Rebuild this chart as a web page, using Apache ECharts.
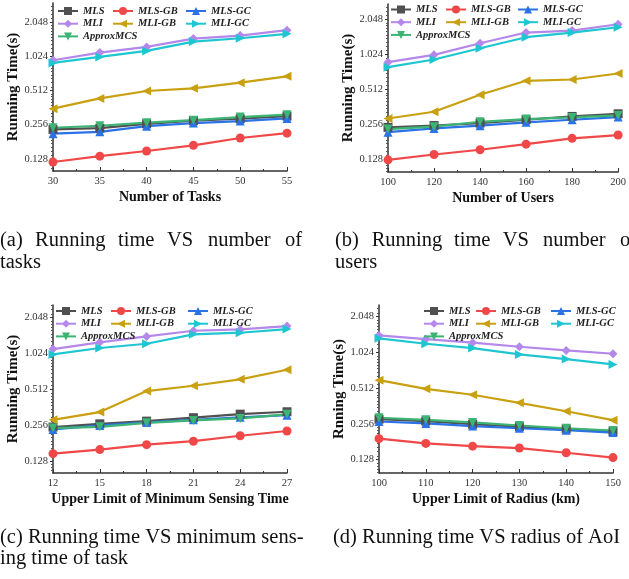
<!DOCTYPE html>
<html><head><meta charset="utf-8">
<script src="https://cdn.jsdelivr.net/npm/echarts@6/dist/echarts.min.js"></script>
<style>html,body{margin:0;padding:0;background:#fff}#c{width:629px;height:579px}</style>
</head><body><div id="c"></div>
<script>
// ---------- data ----------
const seriesNames = ['MLS','MLS-GB','MLS-GC','MLI','MLI-GB','MLI-GC','ApproxMCS'];
const yTickValues = [0.128, 0.256, 0.512, 1.024, 2.048];

// (a) number of tasks
const tasksX = [30, 35, 40, 45, 50, 55];
const tasks_MLS       = [0.232, 0.238, 0.260, 0.277, 0.288, 0.304];
const tasks_MLS_GB    = [0.120, 0.135, 0.150, 0.168, 0.195, 0.215];
const tasks_MLS_GC    = [0.213, 0.221, 0.248, 0.264, 0.275, 0.290];
const tasks_MLI       = [0.941, 1.099, 1.233, 1.460, 1.552, 1.730];
const tasks_MLI_GB    = [0.353, 0.435, 0.505, 0.533, 0.598, 0.680];
const tasks_MLI_GC    = [0.891, 1.007, 1.137, 1.374, 1.470, 1.606];
const tasks_ApproxMCS = [0.240, 0.250, 0.266, 0.280, 0.298, 0.313];

// (b) number of users
const usersX = [100, 120, 140, 160, 180, 200];
const users_MLS       = [0.240, 0.249, 0.261, 0.279, 0.298, 0.314];
const users_MLS_GB    = [0.126, 0.140, 0.154, 0.172, 0.193, 0.206];
const users_MLS_GC    = [0.218, 0.235, 0.248, 0.265, 0.279, 0.294];
const users_MLI       = [0.874, 1.011, 1.273, 1.573, 1.636, 1.855];
const users_MLI_GB    = [0.286, 0.327, 0.458, 0.604, 0.620, 0.698];
const users_MLI_GC    = [0.791, 0.922, 1.153, 1.434, 1.573, 1.747];
const users_ApproxMCS = [0.232, 0.243, 0.268, 0.283, 0.292, 0.304];

// (c) upper limit of minimum sensing time
const senseX = [12, 15, 18, 21, 24, 27];
const sense_MLS       = [0.246, 0.262, 0.276, 0.295, 0.316, 0.331];
const sense_MLS_GB    = [0.147, 0.159, 0.175, 0.187, 0.208, 0.228];
const sense_MLS_GC    = [0.235, 0.254, 0.269, 0.283, 0.297, 0.310];
const sense_MLI       = [1.116, 1.270, 1.426, 1.591, 1.633, 1.742];
const sense_MLI_GB    = [0.283, 0.329, 0.494, 0.548, 0.620, 0.747];
const sense_MLI_GC    = [1.006, 1.138, 1.237, 1.483, 1.531, 1.644];
const sense_ApproxMCS = [0.241, 0.247, 0.267, 0.280, 0.291, 0.315];

// (d) upper limit of radius (km)
const radiusX = [100, 110, 120, 130, 140, 150];
const radius_MLS       = [0.280, 0.270, 0.254, 0.242, 0.232, 0.221];
const radius_MLS_GB    = [0.192, 0.175, 0.166, 0.160, 0.146, 0.133];
const radius_MLS_GC    = [0.268, 0.258, 0.245, 0.235, 0.226, 0.216];
const radius_MLI       = [1.425, 1.327, 1.236, 1.143, 1.065, 0.998];
const radius_MLI_GB    = [0.598, 0.505, 0.450, 0.385, 0.327, 0.275];
const radius_MLI_GC    = [1.345, 1.212, 1.114, 0.985, 0.900, 0.811];
const radius_ApproxMCS = [0.288, 0.277, 0.263, 0.248, 0.235, 0.225];

const xAxisTitles = ['Number of Tasks', 'Number of Users', 'Upper Limit of Minimum Sensing Time', 'Upper Limit of Radius (km)'];
const yAxisTitles = ['Running Time(s)', 'Running Time(s)', 'Running Time(s)', 'Rnning Time(s)'];

// ---------- styling / layout ----------
const styles = {
  'MLS':       {color:'#505050', symbol:'rect',     rot:0},
  'MLS-GB':    {color:'#f04848', symbol:'circle',   rot:0},
  'MLS-GC':    {color:'#2a72e6', symbol:'triangle', rot:0},
  'MLI':       {color:'#b488ea', symbol:'diamond',  rot:0},
  'MLI-GB':    {color:'#c9a010', symbol:'triangle', rot:90},
  'MLI-GC':    {color:'#1ec6d2', symbol:'triangle', rot:-90},
  'ApproxMCS': {color:'#3cb474', symbol:'triangle', rot:180}
};

const panels = [
  {x: tasksX,  vals: [tasks_MLS, tasks_MLS_GB, tasks_MLS_GC, tasks_MLI, tasks_MLI_GB, tasks_MLI_GC, tasks_ApproxMCS],
   grid:{left:53, top:3, width:234, height:168}, xr:[30,55,5], yr:[0.1,3.0],
   leg:{cols:[57,112,185], top:5}},
  {x: usersX,  vals: [users_MLS, users_MLS_GB, users_MLS_GC, users_MLI, users_MLI_GB, users_MLI_GC, users_ApproxMCS],
   grid:{left:388, top:4, width:234, height:168}, xr:[100,200,20], yr:[0.099,2.77],
   leg:{cols:[390,445,517], top:3.5}},
  {x: senseX,  vals: [sense_MLS, sense_MLS_GB, sense_MLS_GC, sense_MLI, sense_MLI_GB, sense_MLI_GC, sense_ApproxMCS],
   grid:{left:53, top:305, width:234, height:168}, xr:[12,27,3], yr:[0.101,2.62],
   leg:{cols:[55,110,187], top:305}},
  {x: radiusX, vals: [radius_MLS, radius_MLS_GB, radius_MLS_GC, radius_MLI, radius_MLI_GB, radius_MLI_GC, radius_ApproxMCS],
   grid:{left:379, top:305, width:234, height:168}, xr:[100,150,10], yr:[0.0986,2.57],
   leg:{cols:[423,475,550], top:305}}
];
const legendCols = [['MLS','MLI','ApproxMCS'], ['MLS-GB','MLI-GB'], ['MLS-GC','MLI-GC']];

const serif = 'Liberation Serif';
const axisColor = '#333';

const grids = [], xAxes = [], yAxes = [], series = [], legends = [];
panels.forEach((p, i) => {
  grids.push(Object.assign({containLabel:false}, p.grid));
  xAxes.push({
    type:'value', gridIndex:i, min:p.xr[0], max:p.xr[1], interval:p.xr[2],
    axisLine:{show:true, onZero:false, lineStyle:{color:axisColor, width:1.5}},
    axisTick:{show:true, inside:true, length:4, lineStyle:{color:axisColor}},
    minorTick:{show:true, splitNumber:2, length:2, lineStyle:{color:axisColor}},
    splitLine:{show:false},
    axisLabel:{fontFamily:serif, fontSize:10.5, color:'#333', margin:5},
    name:xAxisTitles[i], nameLocation:'middle', nameGap:19,
    nameTextStyle:{fontFamily:serif, fontWeight:'bold', fontSize:14, color:'#111'}
  });
  yAxes.push({
    type:'log', logBase:2, gridIndex:i, min:p.yr[0], max:p.yr[1],
    axisLine:{show:true, lineStyle:{color:axisColor, width:1.5}},
    axisTick:{show:true, inside:false, length:3, customValues:yTickValues, lineStyle:{color:axisColor}},
    minorTick:{show:true, splitNumber:10, length:2, lineStyle:{color:'#555'}},
    splitLine:{show:false},
    axisLabel:{customValues:yTickValues, formatter:(v) => Number(v).toFixed(3),
               fontFamily:serif, fontSize:10.5, color:'#333', margin:5},
    name:yAxisTitles[i], nameLocation:'middle', nameGap:31,
    nameTextStyle:{fontFamily:serif, fontWeight:'bold', fontSize:15, color:'#111'}
  });
  seriesNames.forEach((name, k) => {
    const st = styles[name];
    series.push({
      type:'line', name:name, xAxisIndex:i, yAxisIndex:i,
      data:p.x.map((xv, j) => [xv, p.vals[k][j]]),
      symbol:st.symbol, symbolRotate:st.rot, symbolSize:9,
      lineStyle:{width:2.2, color:st.color}, itemStyle:{color:st.color},
      animation:false
    });
  });
  legendCols.forEach((col, c) => {
    legends.push({
      data:col, orient:'vertical', left:p.leg.cols[c], top:p.leg.top,
      itemWidth:20, itemHeight:10, itemGap:0.7, padding:0,
      textStyle:{fontFamily:serif, fontStyle:'italic', fontWeight:'bold', fontSize:10.5, lineHeight:12, color:'#222'}
    });
  });
});

// captions
const capFont = {fontFamily:serif, fontSize:20.5, fill:'#111'};
const captionWords = [
  ['(a)',0,240], ['Running',35,240], ['time',118,240], ['VS',167,240], ['number',208,240], ['of',285,240],
  ['tasks',0,262],
  ['(b)',335,240], ['Running',371.7,240], ['time',454,240], ['VS',502.7,240], ['number',543,240], ['of',620,240],
  ['users',335,262],
  ['(c) Running time VS minimum sens-',0,537], ['ing time of task',0,558.5],
  ['(d) Running time VS radius of AoI',333,537]
];
const graphics = captionWords.map(w => ({
  type:'text', left:w[1], top:w[2] - 10.25,
  style:Object.assign({text:w[0]}, capFont)
}));

const chart = echarts.init(document.getElementById('c'), null, {renderer:'canvas'});
chart.setOption({
  backgroundColor:'#fff',
  animation:false,
  grid:grids, xAxis:xAxes, yAxis:yAxes, series:series, legend:legends,
  graphic:graphics
});
</script></body></html>
